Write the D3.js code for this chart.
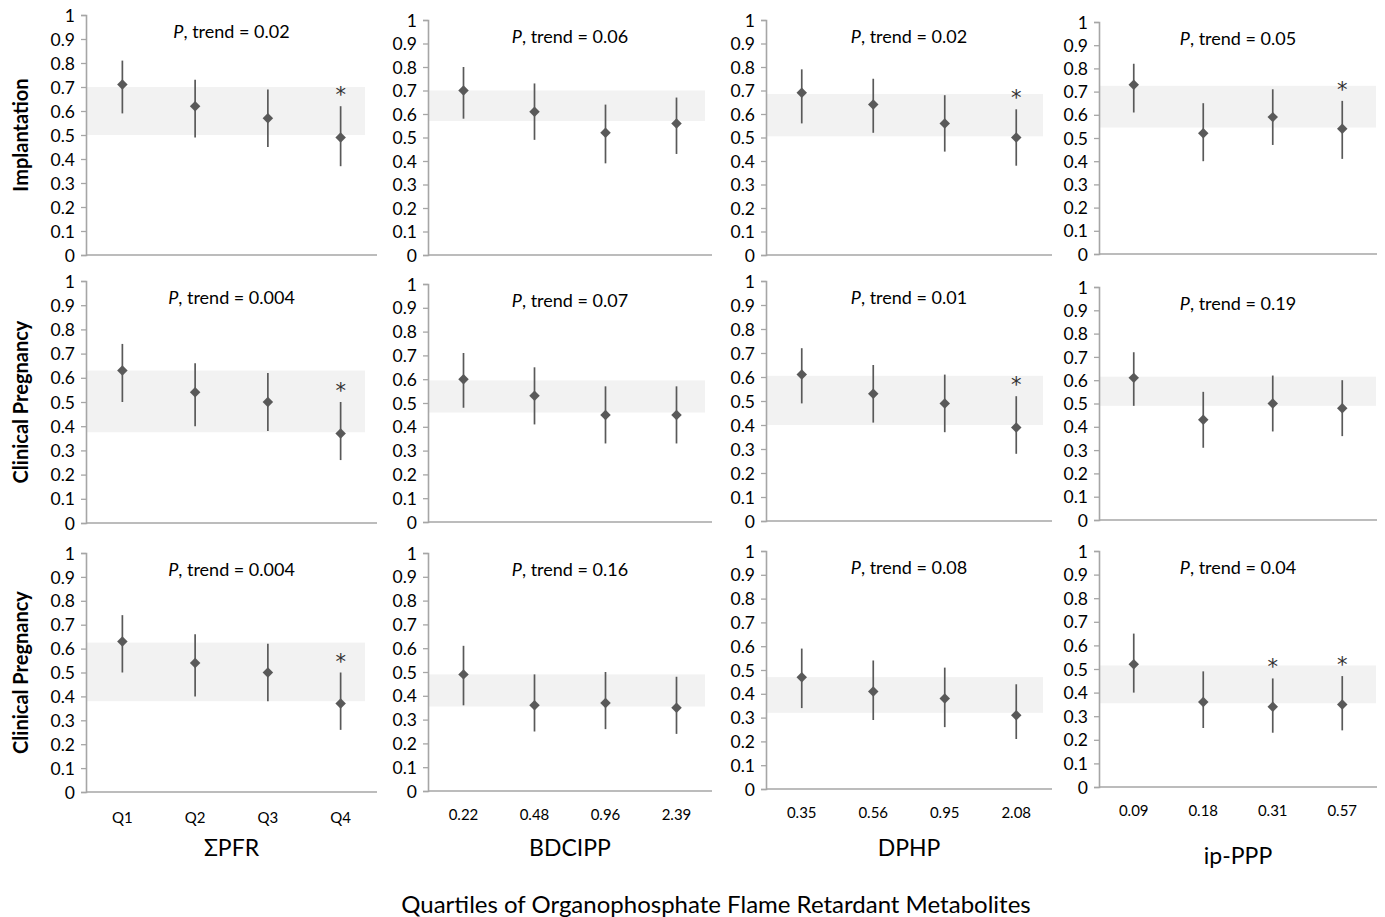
<!DOCTYPE html>
<html>
<head>
<meta charset="utf-8">
<script src="https://cdn.jsdelivr.net/npm/d3@7"></script>
<style>
  body { margin: 0; background: #fff; }
  text { font-family: Lato, "Open Sans", sans-serif; fill: #000; }
</style>
</head>
<body>
<div id="chart"></div>
<script>
// ---- data ----
const outcomes = ["Implantation", "Clinical Pregnancy", "Clinical Pregnancy"];
const metabolites = ["ΣPFR", "BDCIPP", "DPHP", "ip-PPP"];
const quartileLabels = [
  ["Q1", "Q2", "Q3", "Q4"],
  ["0.22", "0.48", "0.96", "2.39"],
  ["0.35", "0.56", "0.95", "2.08"],
  ["0.09", "0.18", "0.31", "0.57"]
];
const yTicks = [0, 0.1, 0.2, 0.3, 0.4, 0.5, 0.6, 0.7, 0.8, 0.9, 1];

// one entry per panel, row by row
const pTrend = ["0.02", "0.06", "0.02", "0.05",
                "0.004", "0.07", "0.01", "0.19",
                "0.004", "0.16", "0.08", "0.04"];
const estimates = [
  [0.71, 0.62, 0.57, 0.49], [0.70, 0.61, 0.52, 0.56], [0.69, 0.64, 0.56, 0.50], [0.73, 0.52, 0.59, 0.54],
  [0.63, 0.54, 0.50, 0.37], [0.60, 0.53, 0.45, 0.45], [0.61, 0.53, 0.49, 0.39], [0.61, 0.43, 0.50, 0.48],
  [0.63, 0.54, 0.50, 0.37], [0.49, 0.36, 0.37, 0.35], [0.47, 0.41, 0.38, 0.31], [0.52, 0.36, 0.34, 0.35]
];
const lowerCI = [
  [0.59, 0.49, 0.45, 0.37], [0.58, 0.49, 0.39, 0.43], [0.56, 0.52, 0.44, 0.38], [0.61, 0.40, 0.47, 0.41],
  [0.50, 0.40, 0.38, 0.26], [0.48, 0.41, 0.33, 0.33], [0.49, 0.41, 0.37, 0.28], [0.49, 0.31, 0.38, 0.36],
  [0.50, 0.40, 0.38, 0.26], [0.36, 0.25, 0.26, 0.24], [0.34, 0.29, 0.26, 0.21], [0.40, 0.25, 0.23, 0.24]
];
const upperCI = [
  [0.81, 0.73, 0.69, 0.62], [0.80, 0.73, 0.64, 0.67], [0.79, 0.75, 0.68, 0.62], [0.82, 0.65, 0.71, 0.66],
  [0.74, 0.66, 0.62, 0.50], [0.71, 0.65, 0.57, 0.57], [0.72, 0.65, 0.61, 0.52], [0.72, 0.55, 0.62, 0.60],
  [0.74, 0.66, 0.62, 0.50], [0.61, 0.49, 0.50, 0.48], [0.59, 0.54, 0.51, 0.44], [0.65, 0.49, 0.46, 0.47]
];
const significant = [
  [0, 0, 0, 1], [0, 0, 0, 0], [0, 0, 0, 1], [0, 0, 0, 1],
  [0, 0, 0, 1], [0, 0, 0, 0], [0, 0, 0, 1], [0, 0, 0, 0],
  [0, 0, 0, 1], [0, 0, 0, 0], [0, 0, 0, 0], [0, 0, 1, 1]
];
// shaded reference band (low, high) per panel
const bandLow  = [0.50, 0.57, 0.505, 0.545, 0.375, 0.46, 0.40, 0.49, 0.38, 0.355, 0.32, 0.355];
const bandHigh = [0.70, 0.70, 0.685, 0.725, 0.63, 0.595, 0.605, 0.615, 0.625, 0.49, 0.47, 0.515];

// ---- layout (pixels) ----
const width = 1385, height = 917;
const colLeft  = [86, 428, 766, 1099];
const colRight = [377, 712, 1052, 1377];
const bandEnd  = [365, 705, 1043, 1376];
const panelTop    = [15, 20, 20, 22, 281, 284, 281, 287, 553, 553, 551, 551];
const panelBottom = [255, 255, 255, 254, 523, 522, 521, 520, 792, 791, 789, 787];

const svg = d3.select("#chart").append("svg")
  .attr("width", width)
  .attr("height", height);

const axisGray = "#a6a6a6";
const markGray = "#595959";

d3.range(12).forEach(i => {
  const row = Math.floor(i / 4);
  const col = i % 4;

  const x = d3.scaleBand()
    .domain(quartileLabels[col])
    .range([colLeft[col], colRight[col]]);

  const y = d3.scaleLinear()
    .domain([0, 1])
    .range([panelBottom[i], panelTop[i]]);

  const g = svg.append("g");

  // reference band
  g.append("rect")
    .attr("x", colLeft[col])
    .attr("y", y(bandHigh[i]))
    .attr("width", bandEnd[col] - colLeft[col])
    .attr("height", y(bandLow[i]) - y(bandHigh[i]))
    .style("fill", "#f2f2f2");

  // y axis
  const yAxis = g.append("g")
    .attr("transform", `translate(${colLeft[col]}, 0)`)
    .call(d3.axisLeft(y).tickValues(yTicks).tickFormat(d3.format("")).tickSize(5).tickPadding(6));
  yAxis.select(".domain").attr("stroke", axisGray).attr("stroke-width", 1.6);
  yAxis.selectAll(".tick line").attr("stroke", axisGray).attr("stroke-width", 1.3);
  yAxis.selectAll(".tick text")
    .attr("dy", "0.35em")
    .style("font-size", "17.5px")
    .style("font-family", "Lato, sans-serif")
    .attr("fill", "#000");

  // x axis line
  g.append("line")
    .attr("x1", colLeft[col])
    .attr("x2", colRight[col])
    .attr("y1", y(0))
    .attr("y2", y(0))
    .style("stroke", axisGray)
    .style("stroke-width", 1.6);

  // error bars
  const pts = quartileLabels[col].map((q, k) => ({
    q: q,
    est: estimates[i][k],
    lo: lowerCI[i][k],
    hi: upperCI[i][k],
    sig: significant[i][k]
  }));

  g.selectAll(".whisker")
    .data(pts)
    .enter()
    .append("line")
    .attr("class", "whisker")
    .attr("x1", d => x(d.q) + x.bandwidth() / 2)
    .attr("x2", d => x(d.q) + x.bandwidth() / 2)
    .attr("y1", d => y(d.lo))
    .attr("y2", d => y(d.hi))
    .style("stroke", markGray)
    .style("stroke-width", 1.7);

  g.selectAll(".marker")
    .data(pts)
    .enter()
    .append("path")
    .attr("class", "marker")
    .attr("d", d3.symbol(d3.symbolSquare, 55))
    .attr("transform", d => `translate(${x(d.q) + x.bandwidth() / 2}, ${y(d.est)}) rotate(45)`)
    .style("fill", markGray);

  g.selectAll(".star")
    .data(pts.filter(d => d.sig))
    .enter()
    .append("text")
    .attr("class", "star")
    .attr("x", d => x(d.q) + x.bandwidth() / 2)
    .attr("y", d => y(d.hi) - 4)
    .attr("text-anchor", "middle")
    .style("font-family", "'DejaVu Sans', sans-serif")
    .style("font-size", "21px")
    .style("fill", "#333")
    .text("*");

  // P, trend label
  const title = g.append("text")
    .attr("x", (colLeft[col] + colRight[col]) / 2)
    .attr("y", panelTop[i] + 23)
    .attr("text-anchor", "middle")
    .style("font-size", "18px");
  title.append("tspan").style("font-style", "italic").text("P");
  title.append("tspan").text(`, trend = ${pTrend[i]}`);

  // category labels on bottom row only
  if (row === 2) {
    g.selectAll(".qlabel")
      .data(quartileLabels[col])
      .enter()
      .append("text")
      .attr("class", "qlabel")
      .attr("x", d => x(d) + x.bandwidth() / 2)
      .attr("y", col === 0 ? panelBottom[i] + 31 : panelBottom[i] + 29)
      .attr("text-anchor", "middle")
      .style("font-size", "15px")
      .text(d => d);

    g.append("text")
      .attr("x", (colLeft[col] + colRight[col]) / 2)
      .attr("y", col === 3 ? 864 : 856)
      .attr("text-anchor", "middle")
      .style("font-size", "23px")
      .text(metabolites[col]);
  }

  // outcome label on first column
  if (col === 0) {
    g.append("text")
      .attr("transform", `translate(28, ${(panelTop[i] + panelBottom[i]) / 2}) rotate(-90)`)
      .attr("text-anchor", "middle")
      .style("font-size", "20px")
      .style("font-weight", "bold")
      .text(outcomes[row]);
  }
});

svg.append("text")
  .attr("x", 716)
  .attr("y", 913)
  .attr("text-anchor", "middle")
  .style("font-size", "24px")
  .text("Quartiles of Organophosphate Flame Retardant Metabolites");
</script>
</body>
</html>
